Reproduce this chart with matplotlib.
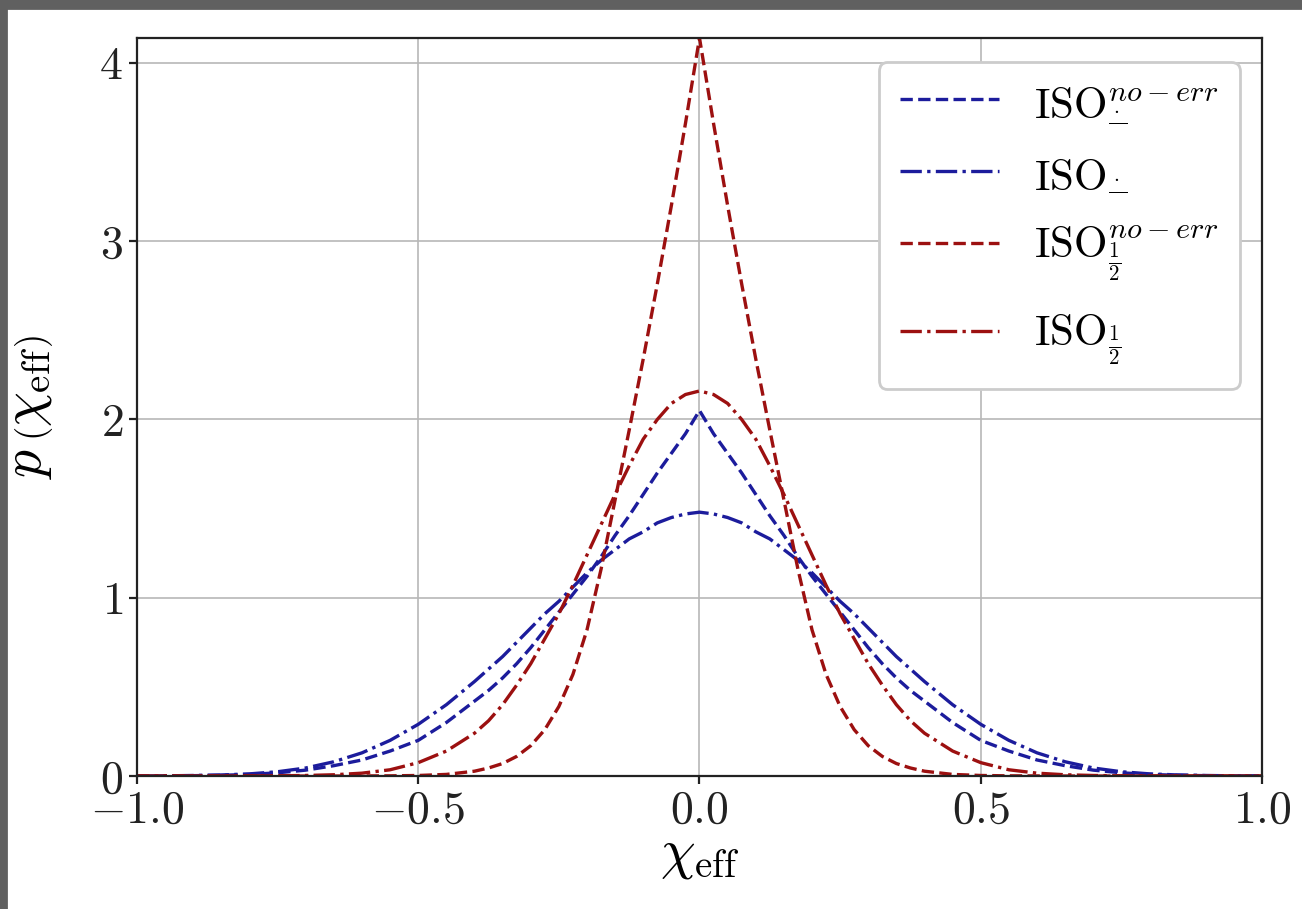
import numpy as np
import matplotlib
matplotlib.use("Agg")
import matplotlib.pyplot as plt
from matplotlib.patches import Rectangle

plt.rcParams['font.family'] = 'serif'
plt.rcParams['font.serif'] = ['cmr10', 'DejaVu Serif']
plt.rcParams['mathtext.fontset'] = 'cm'
plt.rcParams['axes.formatter.use_mathtext'] = True

# values
x_eff = [-1.0, -0.95, -0.9, -0.85, -0.8, -0.75, -0.7, -0.65, -0.6, -0.55, -0.5, -0.45,
         -0.4, -0.375, -0.35, -0.325, -0.3, -0.275, -0.25, -0.225, -0.2, -0.175, -0.15,
         -0.125, -0.1, -0.075, -0.05, -0.025, 0.0, 0.025, 0.05, 0.075, 0.1, 0.125, 0.15,
         0.175, 0.2, 0.225, 0.25, 0.275, 0.3, 0.325, 0.35, 0.375, 0.4,
         0.45, 0.5, 0.55, 0.6, 0.65, 0.7, 0.75, 0.8, 0.85, 0.9, 0.95, 1.0]

iso_minus_noerr = [0.0, 0.001, 0.002, 0.004, 0.009, 0.018, 0.033, 0.058, 0.09, 0.14, 0.20, 0.30,
                   0.42, 0.48, 0.55, 0.63, 0.72, 0.82, 0.92, 1.02, 1.12, 1.23, 1.35,
                   1.46, 1.58, 1.70, 1.81, 1.92, 2.05, 1.92, 1.81, 1.70, 1.58, 1.46, 1.35,
                   1.23, 1.12, 1.02, 0.92, 0.82, 0.72, 0.63, 0.55, 0.48, 0.42,
                   0.30, 0.20, 0.14, 0.09, 0.058, 0.033, 0.018, 0.009, 0.004, 0.002, 0.001, 0.0]

iso_minus = [0.0, 0.001, 0.003, 0.006, 0.012, 0.024, 0.045, 0.08, 0.13, 0.20, 0.29, 0.40,
             0.53, 0.60, 0.67, 0.75, 0.83, 0.91, 0.98, 1.06, 1.14, 1.21, 1.27,
             1.33, 1.37, 1.42, 1.45, 1.47, 1.48, 1.47, 1.45, 1.42, 1.37, 1.33, 1.27,
             1.21, 1.14, 1.06, 0.98, 0.91, 0.83, 0.75, 0.67, 0.60, 0.53,
             0.40, 0.29, 0.20, 0.13, 0.08, 0.045, 0.024, 0.012, 0.006, 0.003, 0.001, 0.0]

iso_half_noerr = [0.0, 0.0, 0.0, 0.0, 0.0, 0.0, 0.0, 0.0, 0.0005, 0.001, 0.003, 0.009,
                  0.027, 0.045, 0.07, 0.11, 0.17, 0.26, 0.39, 0.57, 0.82, 1.16, 1.55,
                  1.94, 2.34, 2.76, 3.20, 3.66, 4.14, 3.66, 3.20, 2.76, 2.34, 1.94, 1.55,
                  1.16, 0.82, 0.57, 0.39, 0.26, 0.17, 0.11, 0.07, 0.045, 0.027,
                  0.009, 0.003, 0.001, 0.0005, 0.0, 0.0, 0.0, 0.0, 0.0, 0.0, 0.0, 0.0]

iso_half = [0.0, 0.0, 0.0, 0.0, 0.0005, 0.001, 0.003, 0.007, 0.016, 0.035, 0.075, 0.14,
            0.24, 0.31, 0.40, 0.51, 0.63, 0.77, 0.91, 1.07, 1.24, 1.41, 1.58,
            1.74, 1.89, 2.00, 2.09, 2.14, 2.16, 2.14, 2.09, 2.00, 1.89, 1.74, 1.58,
            1.41, 1.24, 1.07, 0.91, 0.77, 0.63, 0.51, 0.40, 0.31, 0.24,
            0.14, 0.075, 0.035, 0.016, 0.007, 0.003, 0.001, 0.0005, 0.0, 0.0, 0.0, 0.0]

labels = [r'$\mathrm{ISO}^{no-err}_{\frac{\cdot}{-}}$',
          r'$\mathrm{ISO}_{\frac{\cdot}{-}}$',
          r'$\mathrm{ISO}^{no-err}_{\frac{1}{2}}$',
          r'$\mathrm{ISO}_{\frac{1}{2}}$']

blue = '#1c1c9c'
red = '#9c1010'

fig = plt.figure(figsize=(6.51, 4.545), dpi=200)
ax = fig.add_axes([0.1052, 0.1463, 0.8641, 0.8119])

ax.plot(x_eff, iso_minus_noerr, color=blue, ls='--', lw=1.2, label=labels[0])
ax.plot(x_eff, iso_minus, color=blue, ls='-.', lw=1.2, label=labels[1])
ax.plot(x_eff, iso_half_noerr, color=red, ls='--', lw=1.2, label=labels[2])
ax.plot(x_eff, iso_half, color=red, ls='-.', lw=1.2, label=labels[3])

ax.set_xlim(-1, 1)
ax.set_ylim(0, 4.14)
ax.set_xticks([-1.0, -0.5, 0.0, 0.5, 1.0])
ax.set_yticks([0, 1, 2, 3, 4])
ax.tick_params(labelsize=16.5, length=3, width=0.8, pad=2, colors='#222222')
ax.grid(True, color='#b8b8b8', lw=0.6)
for s in ax.spines.values():
    s.set_linewidth(0.8)
    s.set_color('#222222')

ax.set_xlabel(r'$\chi_{\rm eff}$', fontsize=20, labelpad=0)
ax.set_ylabel(r'$p\,\left(\chi_{\rm eff}\right)$', fontsize=20)
ax.yaxis.set_label_coords(-0.073, 0.5)

leg = ax.legend(loc='upper right', fontsize=15.5, handlelength=2.3, labelspacing=0.7,
                borderpad=0.5, borderaxespad=0.0, framealpha=1.0, edgecolor='#cccccc',
                bbox_to_anchor=(0.98, 0.967))

# dark screenshot border on top and left
fig.patches.append(Rectangle((0, 1 - 8 / 909), 1, 8 / 909, transform=fig.transFigure,
                             color='#606060', zorder=10))
fig.patches.append(Rectangle((0, 0), 6 / 1302, 1, transform=fig.transFigure,
                             color='#606060', zorder=10))

fig.savefig('out.png', dpi=200)
